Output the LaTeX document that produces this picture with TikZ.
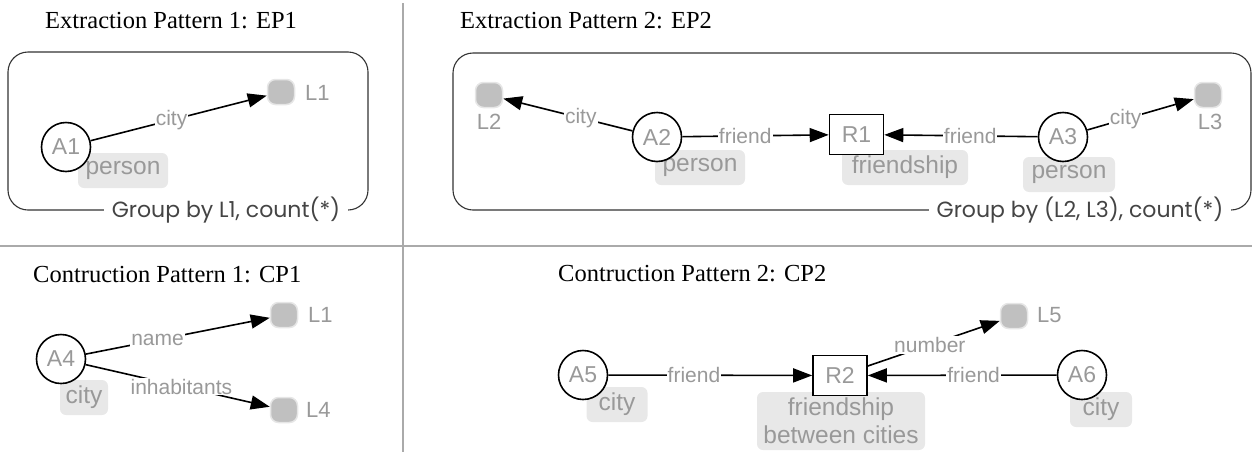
\documentclass[tikz,border=0pt]{standalone}
\usepackage{fontspec}
\setmainfont{Liberation Serif}
\newfontfamily\sansf{Liberation Sans}
\newfontfamily\grpf{Poppins}
\usetikzlibrary{arrows.meta}
\definecolor{txtgray}{HTML}{999999}
\definecolor{typfill}{HTML}{E8E8E8}
\definecolor{litfill}{HTML}{C0C0C0}
\definecolor{litborder}{HTML}{E6E6E6}
\definecolor{divcol}{HTML}{AAAAAA}
\definecolor{framecol}{HTML}{333333}
\definecolor{grpcol}{HTML}{444444}
\tikzset{
  ent/.style={circle, draw, line width=1.6pt, fill=white, minimum size=49pt, inner sep=0pt, font=\sansf\fontsize{23}{26}\selectfont, text=txtgray},
  rel/.style={rectangle, draw, line width=1.6pt, fill=white, minimum width=54pt, minimum height=40pt, inner sep=0pt, font=\sansf\fontsize{23}{26}\selectfont, text=txtgray},
  lit/.style={rectangle, rounded corners=8pt, fill=litfill, draw=litborder, line width=1.5pt, minimum width=27pt, minimum height=25pt, inner sep=0pt},
  typ/.style={rectangle, rounded corners=6pt, fill=typfill, minimum height=35pt, inner sep=0pt, font=\sansf\fontsize{24.5}{28}\selectfont, text=txtgray, align=center},
  littext/.style={inner sep=0pt, font=\sansf\fontsize{22}{26}\selectfont, text=txtgray},
  edge/.style={line width=1.6pt, -{Triangle[length=19pt,width=14pt]}},
  elab/.style={fill=white, inner sep=1pt, font=\sansf\fontsize{21}{24}\selectfont, text=txtgray},
  title/.style={inner sep=0pt, font=\fontsize{24.5}{28}\selectfont, anchor=base west},
  frame/.style={draw=framecol, line width=1.1pt, rounded corners=20pt},
  grp/.style={fill=white, inner xsep=8pt, inner ysep=2pt, font=\grpf\fontsize{22}{26}\selectfont, text=grpcol},
  divider/.style={draw=divcol, line width=2pt}
}
\begin{document}
\begin{tikzpicture}[x=1pt, y=-1pt]
\useasboundingbox (0,0) rectangle (1257,453);
% dividers
\draw[divider] (403,3) -- (403,452);
\draw[divider] (0,246) -- (1252,246);
% titles
\node[title] (T1) at (45,28) {Extraction Pattern 1: EP1};
\node[title] (T2) at (460,28) {Extraction Pattern 2: EP2};
\node[title] (T3) at (33,282) {Contruction Pattern 1: CP1};
\node[title] (T4) at (558,281) {Contruction Pattern 2: CP2};
% frames
\draw[frame] (8,52) rectangle (368,210);
\node[grp] (G1) at (226,210) {Group by L1, count(*)};
\draw[frame] (453,53) rectangle (1251,210);
\node[grp] (G2) at (1080,210) {Group by (L2, L3), count(*)};
% EP1
\node[typ, minimum width=90pt] (t1) at (123,170.5) {person};
\node[ent] (A1) at (66,147) {A1};
\node[lit] (L1a) at (281,92) {};
\node[littext, anchor=west] (L1at) at (305,93) {L1};
\draw[edge] (A1) -- node[elab, pos=0.46] {city} (L1a);
% EP2
\node[typ, minimum width=90pt] (t2) at (700,167.5) {person};
\node[typ, minimum width=126pt] (t3) at (905,167.5) {friendship};
\node[typ, minimum width=92pt] (t4) at (1069,174.5) {person};
\node[ent] (A2) at (657,137) {A2};
\node[rel] (R1) at (856.5,134.5) {R1};
\node[ent] (A3) at (1063,137) {A3};
\node[lit] (L2) at (489,95) {};
\node[littext] (L2t) at (489,122) {L2};
\node[lit] (L3) at (1208,95) {};
\node[littext] (L3t) at (1210,122) {L3};
\draw[edge] (A2) -- node[elab, pos=0.4] {city} (L2);
\draw[edge] (A2) -- node[elab, pos=0.43] {friend} (R1);
\draw[edge] (A3) -- node[elab, pos=0.44] {friend} (R1);
\draw[edge] (A3) -- node[elab, pos=0.36] {city} (L3);
% CP1
\node[typ, minimum width=48pt] (t5) at (84,397.5) {city};
\node[ent] (A4) at (61,359) {A4};
\node[lit] (L1b) at (284,315) {};
\node[littext, anchor=west] (L1bt) at (308,315) {L1};
\node[lit] (L4) at (284,410) {};
\node[littext, anchor=west] (L4t) at (306,410) {L4};
\draw[edge] (A4) -- node[elab, pos=0.39] {name} (L1b);
\draw[edge] (A4) -- node[elab, pos=0.52] {inhabitants} (L4);
% CP2
\node[typ, minimum width=61pt] (t6) at (617,404.5) {city};
\node[typ, minimum width=168pt, minimum height=58pt] (t7) at (841,421) {friendship\\between cities};
\node[typ, minimum width=62pt] (t8) at (1101,409.5) {city};
\node[ent] (A5) at (583,375) {A5};
\node[rel] (R2) at (840,375.5) {R2};
\node[ent] (A6) at (1082,375) {A6};
\node[lit] (L5) at (1014,316) {};
\node[littext, anchor=west] (L5t) at (1037,315) {L5};
\draw[edge] (A5) -- node[elab, pos=0.42] {friend} (R2);
\draw[edge] (A6) -- node[elab, pos=0.44] {friend} (R2);
\draw[edge] (R2) -- node[elab, pos=0.47] {number} (L5);
\end{tikzpicture}
\end{document}
